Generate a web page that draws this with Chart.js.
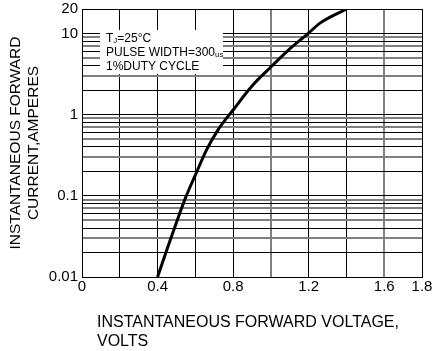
<!DOCTYPE html>
<html>
<head>
<meta charset="utf-8">
<title>Forward characteristics</title>
<script src="https://cdn.jsdelivr.net/npm/chart.js@4/dist/chart.umd.min.js"></script>
<style>
  html, body { margin: 0; padding: 0; background: #fff; }
  #wrap { width: 436px; height: 351px; }
</style>
</head>
<body>
<div id="wrap"><canvas id="vf-chart" width="436" height="351"></canvas></div>
<script>
// Curve
const voltage = [0.4, 0.45, 0.5, 0.55, 0.6, 0.66, 0.72, 0.8, 0.9, 1.0, 1.1, 1.2, 1.26, 1.4];
const current = [0.01, 0.022, 0.047, 0.097, 0.18, 0.37, 0.65, 1.14, 2.25, 3.86, 6.45, 10.1, 13.4, 20];

// Axis ticks
const xTicks = [0, 0.2, 0.4, 0.6, 0.8, 1.0, 1.2, 1.4, 1.6, 1.8];
const xTickLabels = ['0', '', '0.4', '', '0.8', '', '1.2', '', '1.6', '1.8'];
const yTicks = [
  0.01, 0.02, 0.03, 0.04, 0.05, 0.06, 0.07, 0.08, 0.09,
  0.1, 0.2, 0.3, 0.4, 0.5, 0.6, 0.7, 0.8, 0.9,
  1, 2, 3, 4, 5, 6, 7, 8, 9,
  10, 20
];
const yLabelValues = [0.01, 0.1, 1, 10, 20];
const yLabelText = ['0.01', '0.1', '1', '10', '20'];

const conditions = ['T|J|=25°C', 'PULSE WIDTH=300|us|', '1%DUTY CYCLE'];
const xTitle = ['INSTANTANEOUS FORWARD VOLTAGE,', 'VOLTS'];
const yTitle = ['INSTANTANEOUS FORWARD', 'CURRENT,AMPERES'];

const FONT = "'Liberation Sans', Arial, sans-serif";

// some grid lines in the scan print grey and heavier, others thin black
function yGridGrey(v) {
  if (v == null) return false;
  const sig = Math.round(v / Math.pow(10, Math.floor(Math.log10(v) + 1e-9)));
  return sig === 3 || sig === 5 || sig === 7 || sig === 9;
}
function xGridGrey(v) {
  if (v == null) return false;
  const i = Math.round(v * 5);
  return i === 5 || i === 8;
}

// Box with test conditions, sitting on top of the grid
const conditionsBox = {
  id: 'conditionsBox',
  beforeDatasetsDraw(chart) {
    const { ctx, chartArea } = chart;
    const left = chartArea.left + 18;
    const top = chartArea.top + 21;
    ctx.save();
    ctx.fillStyle = '#fff';
    ctx.fillRect(left, top, 123, 44);
    ctx.fillStyle = '#000';
    ctx.textBaseline = 'middle';
    conditions.forEach((line, i) => {
      let x = left + 6;
      const y = chartArea.top + 30 + i * 14;
      line.split('|').forEach((part, j) => {
        const small = j % 2 === 1;
        ctx.font = (small ? '8px ' : '12px ') + FONT;
        ctx.fillText(part, x, small ? y + 2 : y);
        x += ctx.measureText(part).width;
      });
    });
    ctx.restore();
  }
};

// X title is left aligned on both lines, so draw it here
const xTitlePlugin = {
  id: 'xTitlePlugin',
  afterDraw(chart) {
    const { ctx, chartArea } = chart;
    ctx.save();
    ctx.fillStyle = '#000';
    ctx.font = '16px ' + FONT;
    ctx.textBaseline = 'middle';
    ctx.textAlign = 'left';
    xTitle.forEach((line, i) => {
      ctx.fillText(line, chartArea.left + 15, chartArea.bottom + 46 + i * 19);
    });
    ctx.restore();
  }
};

Chart.defaults.font.family = FONT;
Chart.defaults.font.size = 15;
Chart.defaults.color = '#000';

const points = voltage.map((v, i) => ({ x: v, y: current[i] }));

new Chart(document.getElementById('vf-chart'), {
  type: 'line',
  data: {
    datasets: [{
      data: points,
      borderColor: '#000',
      borderWidth: 3,
      pointRadius: 0,
      cubicInterpolationMode: 'monotone',
      fill: false
    }]
  },
  options: {
    responsive: false,
    animation: false,
    layout: { padding: { top: 9, right: 14, left: 0, bottom: 0 } },
    plugins: {
      legend: { display: false },
      tooltip: { enabled: false }
    },
    scales: {
      x: {
        type: 'linear',
        min: 0,
        max: 1.8,
        afterBuildTicks: (scale) => {
          scale.ticks = xTicks.map(v => ({ value: v }));
        },
        afterFit: (scale) => { scale.height = 74; },
        ticks: {
          autoSkip: false,
          maxRotation: 0,
          padding: 1,
          callback: (value) => {
            const i = xTicks.findIndex(t => Math.abs(t - value) < 1e-6);
            return i >= 0 ? xTickLabels[i] : '';
          }
        },
        grid: {
          drawTicks: false,
          color: (c) => xGridGrey(c.tick && c.tick.value) ? '#808080' : '#000',
          lineWidth: (c) => xGridGrey(c.tick && c.tick.value) ? 2 : 1
        },
        border: { display: true, color: '#000', width: 1 }
      },
      y: {
        type: 'logarithmic',
        min: 0.01,
        max: 20,
        afterBuildTicks: (scale) => {
          scale.ticks = yTicks.map(v => ({ value: v }));
        },
        afterFit: (scale) => { scale.width = 82; },
        ticks: {
          autoSkip: false,
          padding: 4,
          // small line height keeps the top label from pushing the plot down
          font: { size: 15, lineHeight: 0.6 },
          callback: (value) => {
            const i = yLabelValues.findIndex(t => Math.abs(t - value) < t * 1e-6);
            return i >= 0 ? yLabelText[i] : '';
          }
        },
        grid: {
          drawTicks: false,
          color: (c) => yGridGrey(c.tick && c.tick.value) ? '#808080' : '#000',
          lineWidth: (c) => yGridGrey(c.tick && c.tick.value) ? 2 : 1
        },
        border: { display: true, color: '#000', width: 1 },
        title: {
          display: true,
          text: yTitle,
          font: { size: 15.5 },
          padding: { top: 6, bottom: 0 }
        }
      }
    }
  },
  plugins: [conditionsBox, xTitlePlugin]
});
</script>
</body>
</html>
